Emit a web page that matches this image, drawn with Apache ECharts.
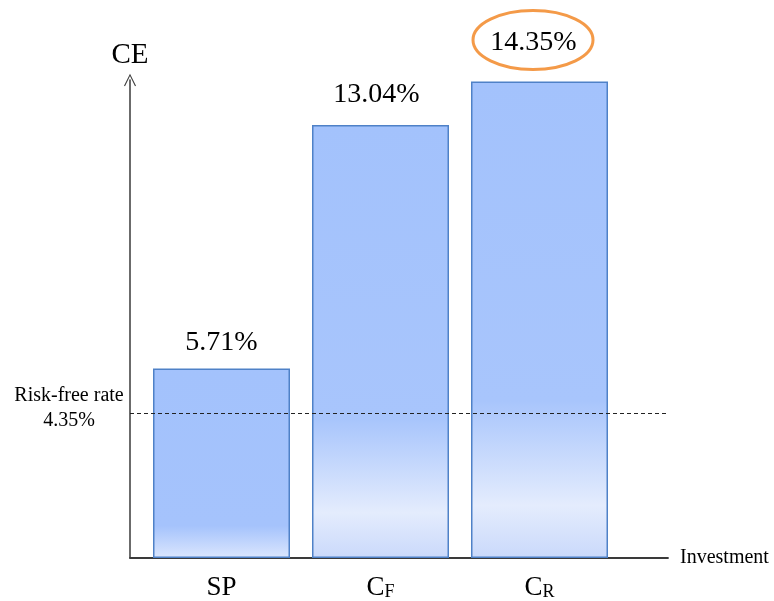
<!DOCTYPE html>
<html>
<head>
<meta charset="utf-8">
<script src="https://cdn.jsdelivr.net/npm/echarts@6/dist/echarts.min.js"></script>
<style>
html,body{margin:0;padding:0;background:#fff;}
#c{width:774px;height:601px;}
</style>
</head>
<body>
<div id="c"></div>
<script>
// ---- data ----
var categories = ['SP', 'CF', 'CR'];
var categoryLabels = ['{m|SP}', '{m|C}{s|F}', '{m|C}{s|R}'];
var ceValues = [5.71, 13.04, 14.35];
var valueLabels = ['5.71%', '13.04%', '14.35%'];
var riskFreeRate = 4.35;
var riskFreeLabel = ['Risk-free rate', '4.35%'];
var highlightIndex = 2;

// ---- styles (not data) ----
var serif = "'Liberation Serif', 'Times New Roman', serif";
var gradStops = [
  [[0, '#a3c2fc'], [0.83, '#a5c3fc'], [1, '#dbe6fd']],
  [[0, '#a3c2fc'], [0.68, '#a8c5fc'], [0.895, '#e4ecfd'], [1, '#cad9fb']],
  [[0, '#a3c2fc'], [0.67, '#a8c5fc'], [0.89, '#e4ecfd'], [1, '#cad9fb']]
];
var labelDist = [12, 16, 25];
var labelOff = [[0, 0], [-4, 0], [-6, 0]];

var barData = ceValues.map(function (v, i) {
  return {
    value: v,
    itemStyle: {
      color: {
        type: 'linear', x: 0, y: 0, x2: 0, y2: 1,
        colorStops: gradStops[i].map(function (s) { return { offset: s[0], color: s[1] }; })
      }
    },
    label: { distance: labelDist[i], offset: labelOff[i] }
  };
});

var chart = echarts.init(document.getElementById('c'), null, { renderer: 'canvas' });
var axisColor = '#3a3a3a';

chart.setOption({
  animation: false,
  backgroundColor: '#ffffff',
  grid: [
    { left: 142, right: 155, top: 60, bottom: 43 },
    { left: 130, right: 106, top: 80, bottom: 43 }
  ],
  xAxis: [
    {
      type: 'category', gridIndex: 0, data: categories,
      axisLine: { show: false }, axisTick: { show: false },
      axisLabel: {
        margin: 16,
        formatter: function (v, i) { return categoryLabels[i]; },
        rich: {
          m: { fontFamily: serif, fontSize: 27, color: '#000', verticalAlign: 'bottom' },
          s: { fontFamily: serif, fontSize: 18, color: '#000', verticalAlign: 'bottom' }
        }
      }
    },
    {
      type: 'value', gridIndex: 1, min: 0, max: 1,
      axisLine: { show: true, lineStyle: { color: axisColor, width: 1.8 } },
      axisTick: { show: false }, axisLabel: { show: false }, splitLine: { show: false },
      name: 'Investment', nameLocation: 'end', nameGap: 12,
      nameTextStyle: { fontFamily: serif, fontSize: 20, color: '#000' }
    }
  ],
  yAxis: [
    {
      type: 'value', gridIndex: 0, min: 0, max: 15, show: false
    },
    {
      type: 'value', gridIndex: 1, min: 0, max: 14.4,
      axisLine: {
        show: true, onZero: false,
        lineStyle: { color: axisColor, width: 1.5 },
        symbol: ['none', 'path://M0,12 L6,0 L12,12 L11,12.5 L6,2.2 L1,12.5 Z'],
        symbolSize: [12, 13], symbolOffset: [0, 0]
      },
      axisTick: { show: false }, axisLabel: { show: false }, splitLine: { show: false },
      name: 'CE', nameLocation: 'end', nameGap: 10,
      nameTextStyle: { fontFamily: serif, fontSize: 29, color: '#000' }
    }
  ],
  series: [
    {
      type: 'scatter', xAxisIndex: 1, yAxisIndex: 1, data: [], z: 1,
      markLine: {
        silent: true, symbol: ['none', 'none'],
        lineStyle: { color: '#222', width: 1, type: [4, 3] },
        label: {
          show: true, position: 'start', distance: 3,
          padding: [0, 0, 10, 0],
          formatter: '{a|' + riskFreeLabel[0] + '}\n{a|' + riskFreeLabel[1] + '}',
          rich: { a: { fontFamily: serif, fontSize: 20, color: '#000', width: 116, align: 'center', lineHeight: 25 } }
        },
        data: [{ yAxis: riskFreeRate }]
      }
    },
    {
      type: 'bar', xAxisIndex: 0, yAxisIndex: 0, z: 3,
      barWidth: 137,
      data: barData,
      itemStyle: { borderColor: '#4f81c7', borderWidth: 1.5 },
      label: {
        show: true, position: 'top',
        fontFamily: serif, fontSize: 28, color: '#000',
        formatter: function (p) { return valueLabels[p.dataIndex]; }
      }
    }
  ]
});

// highlight ellipse around the top label, positioned from the axis scale
var pt = chart.convertToPixel({ xAxisIndex: 0, yAxisIndex: 0 }, [highlightIndex, ceValues[highlightIndex]]);
chart.setOption({
  graphic: [{
    type: 'ellipse', z: 10,
    shape: { cx: pt[0] - 6.5, cy: pt[1] - 41.5, rx: 60, ry: 29.5 },
    style: { fill: 'transparent', stroke: '#f49a48', lineWidth: 3 }
  }]
});
</script>
</body>
</html>
